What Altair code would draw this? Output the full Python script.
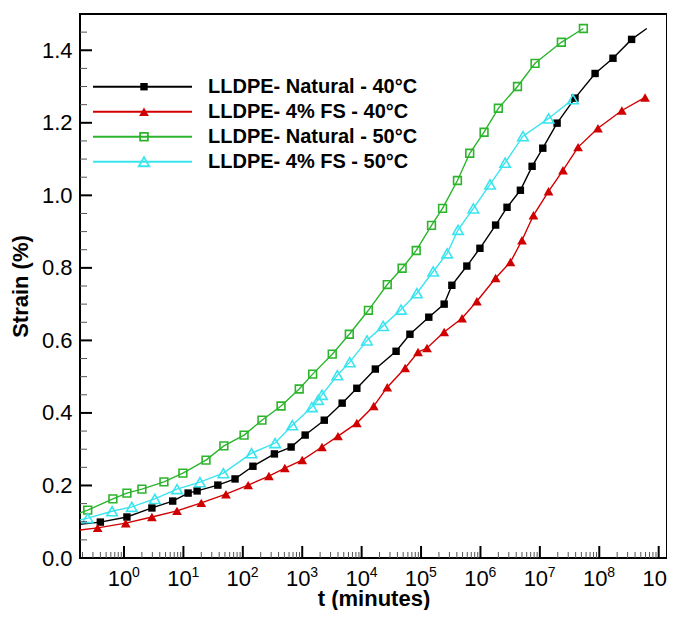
import altair as alt
import pandas as pd

# ---------------- data ----------------
series_names = ["LLDPE- Natural - 40°C", "LLDPE- 4% FS - 40°C",
                "LLDPE- Natural - 50°C", "LLDPE- 4% FS - 50°C"]

nat40_t = [0.18, 0.40, 1.12, 2.95, 6.6, 12, 17, 38, 74, 148, 340, 650, 1120, 2350, 4700,
           8300, 17000, 38000, 65000, 1.35e5, 2.45e5, 3.3e5, 5.9e5, 9.8e5, 1.8e6, 2.8e6,
           4.7e6, 7.4e6, 1.12e7, 1.95e7, 3.9e7, 8.5e7, 1.7e8, 3.5e8, 6.3e8]
nat40_s = [0.093, 0.099, 0.113, 0.138, 0.157, 0.179, 0.185, 0.201, 0.218, 0.253, 0.287, 0.306,
           0.339, 0.380, 0.427, 0.468, 0.521, 0.570, 0.617, 0.664, 0.700, 0.752, 0.805, 0.854,
           0.918, 0.967, 1.014, 1.080, 1.130, 1.199, 1.268, 1.336, 1.378, 1.430, 1.460]
nat40_m = [0] + [1] * 33 + [0]

fs40_t = [0.18, 0.36, 1.07, 2.95, 7.8, 20, 52, 123, 275, 510, 1000, 2150, 4000, 8300, 16000,
          27000, 54000, 89000, 1.26e5, 2.45e5, 4.9e5, 8.7e5, 1.8e6, 3.2e6, 5.0e6, 7.8e6,
          1.4e7, 2.45e7, 4.4e7, 9.5e7, 2.4e8, 5.9e8]
fs40_s = [0.077, 0.083, 0.096, 0.113, 0.130, 0.152, 0.176, 0.201, 0.226, 0.248, 0.270, 0.306,
          0.336, 0.372, 0.419, 0.471, 0.524, 0.568, 0.579, 0.623, 0.661, 0.708, 0.772, 0.816,
          0.876, 0.945, 1.011, 1.069, 1.133, 1.185, 1.234, 1.270]
fs40_m = [0] + [1] * 31

nat50_t = [0.18, 0.245, 0.65, 1.12, 2.0, 4.7, 9.8, 24, 48, 105, 210, 440, 890, 1500, 3200,
           6200, 13000, 27000, 48000, 83000, 1.5e5, 2.3e5, 4.1e5, 6.6e5, 1.15e6, 2.0e6,
           4.2e6, 8.3e6, 2.3e7, 5.4e7]
nat50_s = [0.124, 0.132, 0.163, 0.179, 0.190, 0.210, 0.234, 0.270, 0.309, 0.339, 0.380, 0.419,
           0.466, 0.507, 0.562, 0.617, 0.683, 0.754, 0.799, 0.848, 0.917, 0.964, 1.041, 1.116,
           1.174, 1.240, 1.300, 1.364, 1.422, 1.460]
nat50_m = [0] + [1] * 29

fs50_t = [0.18, 0.245, 0.63, 1.35, 3.3, 7.8, 19, 47, 140, 350, 680, 1450, 1850, 2150, 3900,
          6300, 12300, 23000, 46000, 85000, 1.6e5, 2.75e5, 4.2e5, 7.6e5, 1.45e6, 2.6e6,
          5.2e6, 1.4e7, 3.6e7]
fs50_s = [0.105, 0.110, 0.129, 0.141, 0.163, 0.190, 0.209, 0.234, 0.289, 0.317, 0.366, 0.416,
          0.436, 0.450, 0.504, 0.540, 0.600, 0.640, 0.685, 0.730, 0.790, 0.840, 0.905, 0.964,
          1.030, 1.090, 1.163, 1.212, 1.265]
fs50_m = [0] + [1] * 28

x_tick_exponents = list(range(0, 10))
y_tick_values = [0.0, 0.2, 0.4, 0.6, 0.8, 1.0, 1.2, 1.4]

# ---------------- styles ----------------
colors = ["#000000", "#d10000", "#2cb52c", "#3ae4ee"]
shapes = ["square", "triangle-up", "square", "triangle-up"]
filled = [True, True, False, False]
sizes = [55, 95, 60, 110]
FONT = "Liberation Sans"

W, H = 587, 544
XDOM = [0.1817, 1.38e9]
YDOM = [0.0, 1.5]

rows = []
for name, ts, ss, ms in zip(series_names,
                            [nat40_t, fs40_t, nat50_t, fs50_t],
                            [nat40_s, fs40_s, nat50_s, fs50_s],
                            [nat40_m, fs40_m, nat50_m, fs50_m]):
    for i, (t, s, m) in enumerate(zip(ts, ss, ms)):
        rows.append({"series": name, "t": t, "s": s, "m": m, "i": i})
df = pd.DataFrame(rows)

xscale = alt.Scale(type="log", domain=XDOM, nice=False)
yscale = alt.Scale(domain=YDOM, nice=False, zero=False)
cscale = alt.Scale(domain=series_names, range=colors)

xaxis = alt.Axis(labels=False, ticks=False, domain=False, grid=False,
                 title="t (minutes)", titleFont=FONT, titleFontSize=22,
                 titleFontWeight="bold", titleColor="black", titlePadding=30)
yaxis = alt.Axis(values=y_tick_values, format=".1f", ticks=False, domain=False, grid=False,
                 labelFont=FONT, labelFontSize=22, labelColor="black", labelPadding=8,
                 title="Strain (%)", titleFont=FONT, titleFontSize=22,
                 titleFontWeight="bold", titleColor="black", titlePadding=9)

base = alt.Chart(df)
lines = base.mark_line(strokeWidth=1.4, clip=True).encode(
    x=alt.X("t:Q", scale=xscale, axis=xaxis),
    y=alt.Y("s:Q", scale=yscale, axis=yaxis),
    color=alt.Color("series:N", scale=cscale, legend=None),
    detail="series:N",
    order=alt.Order("i:Q"),
)

layers = [lines]
for name, col, shp, fl, sz in zip(series_names, colors, shapes, filled, sizes):
    pts = base.transform_filter(
        (alt.datum.series == name) & (alt.datum.m == 1)
    ).mark_point(shape=shp, filled=fl, size=sz, color=col, opacity=1,
                 strokeWidth=1.6, clip=True).encode(
        x=alt.X("t:Q", scale=xscale),
        y=alt.Y("s:Q", scale=yscale),
    )
    layers.append(pts)

# ---------------- inward ticks ----------------
xmaj = pd.DataFrame({"t": [10.0 ** k for k in x_tick_exponents]})
xmin_vals = [m * 10.0 ** k for k in range(-1, 9) for m in range(2, 10)]
xmin_vals = [v for v in xmin_vals if XDOM[0] <= v <= XDOM[1]]
xmin = pd.DataFrame({"t": xmin_vals})
ymaj = pd.DataFrame({"s": y_tick_values})
ymin = pd.DataFrame({"s": [round(0.05 * k, 2) for k in range(1, 30) if k % 4 != 0]})

layers.append(alt.Chart(xmaj).mark_rule(color="black", strokeWidth=2).encode(
    x=alt.X("t:Q", scale=xscale), y=alt.value(H), y2=alt.value(H - 12)))
layers.append(alt.Chart(xmin).mark_rule(color="#555555", strokeWidth=1).encode(
    x=alt.X("t:Q", scale=xscale), y=alt.value(H), y2=alt.value(H - 6)))
layers.append(alt.Chart(ymaj).mark_rule(color="black", strokeWidth=2).encode(
    y=alt.Y("s:Q", scale=yscale), x=alt.value(0), x2=alt.value(12)))
layers.append(alt.Chart(ymin).mark_rule(color="#555555", strokeWidth=1).encode(
    y=alt.Y("s:Q", scale=yscale), x=alt.value(0), x2=alt.value(7)))

# ---------------- x tick labels 10^k ----------------
xlab = pd.DataFrame({"t": [10.0 ** k for k in x_tick_exponents],
                     "base": ["10"] * len(x_tick_exponents),
                     "exp": [str(k) for k in x_tick_exponents]})
layers.append(alt.Chart(xlab).mark_text(font=FONT, fontSize=22, color="black",
                                        align="center", baseline="alphabetic", dx=-4).encode(
    x=alt.X("t:Q", scale=xscale), y=alt.value(H + 28), text="base:N"))
layers.append(alt.Chart(xlab).mark_text(font=FONT, fontSize=14, color="black",
                                        align="left", baseline="alphabetic", dx=8).encode(
    x=alt.X("t:Q", scale=xscale), y=alt.value(H + 19), text="exp:N"))

# ---------------- legend (drawn inside the plot) ----------------
leg = pd.DataFrame({"series": series_names, "k": list(range(len(series_names)))})
legbase = alt.Chart(leg).transform_calculate(ly="72.7 + datum.k * 25")
layers.append(legbase.mark_rule(strokeWidth=2).encode(
    x=alt.value(13), x2=alt.value(112), y=alt.Y("ly:Q", scale=None),
    color=alt.Color("series:N", scale=cscale, legend=None)))
for name, col, shp, fl, sz in zip(series_names, colors, shapes, filled, sizes):
    layers.append(legbase.transform_filter(alt.datum.series == name).mark_point(
        shape=shp, filled=fl, size=sz, color=col, opacity=1, strokeWidth=1.8).encode(
        x=alt.value(64), y=alt.Y("ly:Q", scale=None)))
layers.append(legbase.mark_text(font=FONT, fontSize=20, fontWeight="bold", color="black",
                                align="left", baseline="middle").encode(
    x=alt.value(128), y=alt.Y("ly:Q", scale=None), text="series:N"))

chart = alt.layer(*layers).properties(
    width=W, height=H,
    autosize=alt.AutoSizeParams(type="none"),
    padding={"left": 72, "top": 6, "right": 0, "bottom": 52},
    background="white",
).configure_view(stroke="black", strokeWidth=2)

chart.save("out.html", embed_options={"renderer": "svg", "actions": False})
